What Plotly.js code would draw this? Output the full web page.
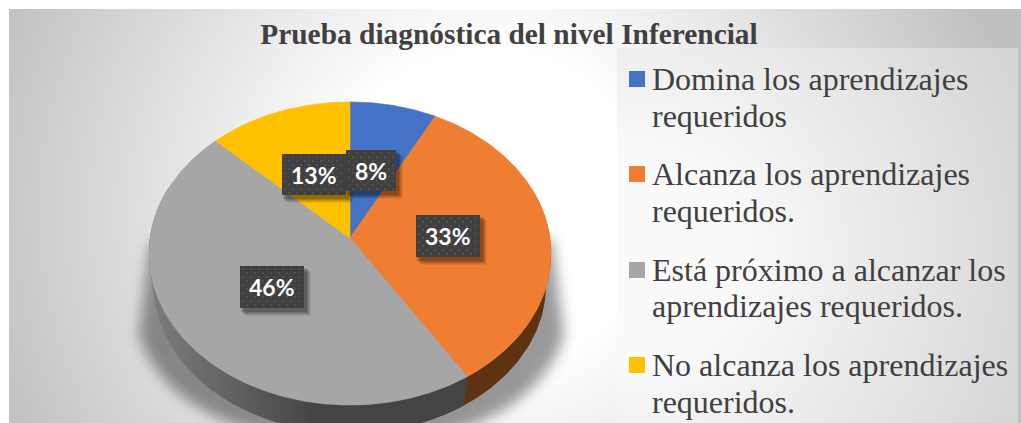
<!DOCTYPE html>
<html><head><meta charset="utf-8">
<script src="https://cdn.plot.ly/plotly-3.0.1.min.js"></script>
<style>
html,body{margin:0;padding:0;background:#fff;overflow:hidden}
#wrap{position:relative;width:1021px;height:423px;overflow:hidden}
#bg{position:absolute;left:9px;top:9px;width:1012px;height:414px;background:radial-gradient(circle 530px at 481px 201px,#fff 30%,#c0c0c0 100%)}
#panel{position:absolute;left:617px;top:48px;width:401px;height:375px;background:radial-gradient(circle 410px at 20px 210px,#fafafa 25%,#d6d6d6 100%)}
#shadow{position:absolute;left:0;top:0}
#chart{position:absolute;left:0;top:0;width:1021px;height:423px}
</style></head><body>
<div id="wrap">
<div id="bg"></div><div id="panel"></div>
<svg id="shadow" width="1021" height="423"><defs><filter id="b" x="-20%" y="-20%" width="140%" height="140%"><feGaussianBlur stdDeviation="7"/></filter></defs>
<path d="M150 245 L139 335 C160 400 230 440 350 445 C470 445 545 400 564 335 L552 240 Z" fill="rgba(0,0,0,.4)" filter="url(#b)"/></svg>
<div id="chart"></div>
</div>
<script>
const titleText = "Prueba diagnóstica del nivel Inferencial";
const categories = ["Domina los aprendizajes requeridos","Alcanza los aprendizajes requeridos.","Está próximo a alcanzar los aprendizajes requeridos.","No alcanza los aprendizajes requeridos."];
const legendLines = [["Domina los aprendizajes","requeridos"],["Alcanza los aprendizajes","requeridos."],["Está próximo a alcanzar los","aprendizajes requeridos."],["No alcanza los aprendizajes","requeridos."]];
const values = [7.7,33.3,46.2,12.8];
const colors = ["#4472C4","#F07E32","#A6A6A6","#FFC000"];
const wallColors = ["#26447a","#5F3212","#444444","#997300"];
const labelBoxes = [[346,396,150,191],[416,480,215,257],[240,304,266,308],[282,346,154,195]];
const legendY = [79,174,270,365];
const lineY = [[79,116],[174,211],[270,306],[365,402]];

// projection of the tilted pie
const CX=350,CY=238,A=200,B=150,K=0.1023;
function rimTop(t){const w=1+K*Math.cos(t);return [CX+A*Math.sin(t)/w,CY-B*Math.cos(t)/w];}
function rimBot(t){const p=rimTop(t);return [CX+.975*(p[0]-CX),CY+.975*(p[1]-CY)+32];}
const rad=d=>d*Math.PI/180;
const traces=[];
function poly(pts,color,lw){traces.push({type:"scatter",mode:"lines",x:pts.map(p=>p[0]),y:pts.map(p=>p[1]),fill:"toself",fillcolor:color,line:{color:color,width:lw===undefined?0.6:lw},hoverinfo:"skip",showlegend:false});}

const total=values.reduce((a,b)=>a+b,0);
let cum=0;const spans=values.map(v=>{const s=cum*360/total;cum+=v;return [s,cum*360/total];});

// side wall
function lerp(a,b,f){return a+(b-a)*f;}
function greyAt(x){const st=[[150,125],[175,118],[240,96],[320,68],[1021,67]];for(let i=0;i<st.length-1;i++){if(x<=st[i+1][0]){const f=(x-st[i][0])/(st[i+1][0]-st[i][0]);return Math.round(lerp(st[i][1],st[i+1][1],f));}}return 67;}
spans.forEach((s,i)=>{
  const a=Math.max(s[0],70),b=Math.min(s[1],290);
  if(b<=a||i===2)return;
  const up=[],dn=[];for(let d=a-(i===1?0:0);d<=b+2;d+=1){up.push(rimTop(rad(d)));dn.unshift(rimBot(rad(d)));}
  poly(up.concat(dn),wallColors[i],0);
});
{
  const s=spans[2],a=s[0],b=Math.min(s[1],290);
  // one-degree strips, each overlapping the next so no seams appear; painted from the right end to the left
  for(let d=a;d<b;d+=1){const e=Math.min(d+2.5,b);const p=[rimTop(rad(d)),rimTop(rad(e)),rimBot(rad(e)),rimBot(rad(d)),rimTop(rad(d))];const g=greyAt(rimBot(rad(d))[0]);poly(p,`rgb(${g},${g},${g})`,0);}
}
// top face
spans.forEach((s,i)=>{
  const pts=[[CX,CY]];for(let d=s[0];d<s[1];d+=0.5)pts.push(rimTop(rad(d)));pts.push(rimTop(rad(s[1])));pts.push([CX,CY]);
  poly(pts,colors[i]);
});
// data label boxes: shadow, body, dot pattern
const order=[3,0,1,2];
order.forEach(i=>{
  const [x0,x1,y0,y1]=labelBoxes[i];
  [[7,8,.07],[6,7,.08],[5,6,.1],[4,5,.12],[3,4,.14]].forEach(o=>poly([[x0+o[0]-2,y0+o[1]-2],[x1+o[0],y0+o[1]-2],[x1+o[0],y1+o[1]],[x0+o[0]-2,y1+o[1]],[x0+o[0]-2,y0+o[1]-2]],`rgba(0,0,0,${o[2]})`,0));
  poly([[x0,y0],[x1,y0],[x1,y1],[x0,y1],[x0,y0]],"#404040",0);
  const dx=[],dy=[];let r=0;
  for(let y=y0+3;y<y1-1;y+=4,r++)for(let x=x0+(r%2?7:3);x<x1-1;x+=8){dx.push(x);dy.push(y);}
  traces.push({type:"scatter",mode:"markers",x:dx,y:dy,marker:{size:2,color:"#565656"},hoverinfo:"skip",showlegend:false});
});
// legend swatches
legendY.forEach((y,i)=>traces.push({type:"scatter",mode:"markers",x:[637],y:[y],marker:{symbol:"square",size:16,color:colors[i],line:{width:0}},hoverinfo:"skip",showlegend:false,name:categories[i]}));

const annotations=[];
labelBoxes.forEach((b,i)=>annotations.push({x:(b[0]+b[1])/2,y:(b[2]+b[3])/2,xref:"x",yref:"y",text:Math.round(values[i])+"%",showarrow:false,xanchor:"center",yanchor:"middle",font:{family:"Lato",size:23,color:"#fff",weight:700}}));
legendLines.forEach((ls,i)=>ls.forEach((t,j)=>annotations.push({x:652,y:lineY[i][j],xref:"x",yref:"y",text:t,showarrow:false,xanchor:"left",yanchor:"middle",xshift:-2,font:{family:"Liberation Serif",size:32,color:"#404040"}})));

Plotly.newPlot("chart",traces,{
  width:1021,height:423,margin:{l:0,r:0,t:0,b:0},paper_bgcolor:"rgba(0,0,0,0)",plot_bgcolor:"rgba(0,0,0,0)",showlegend:false,
  title:{text:titleText,x:509/1021,y:1-34/423,xref:"paper",yref:"paper",xanchor:"center",yanchor:"middle",font:{family:"Liberation Serif",size:29.4,color:"#404040",weight:700}},
  xaxis:{range:[0,1021],visible:false,fixedrange:true},
  yaxis:{range:[423,0],visible:false,fixedrange:true},
  annotations:annotations
},{displayModeBar:false,staticPlot:true});
</script></body></html>
